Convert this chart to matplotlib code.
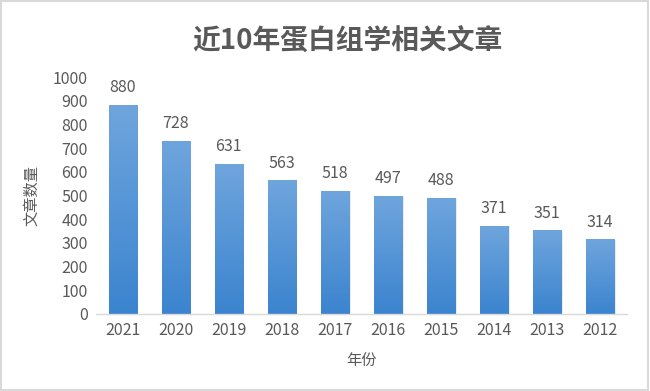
import matplotlib
matplotlib.use('Agg')
import matplotlib.pyplot as plt
import numpy as np
from matplotlib.colors import LinearSegmentedColormap
from matplotlib.patches import Rectangle

plt.rcParams['font.family'] = ['Noto Sans CJK SC', 'DejaVu Sans']

years = ['2021', '2020', '2019', '2018', '2017', '2016', '2015', '2014', '2013', '2012']
counts = [880, 728, 631, 563, 518, 497, 488, 371, 351, 314]
yticks = [0, 100, 200, 300, 400, 500, 600, 700, 800, 900, 1000]

title = '近10年蛋白组学相关文章'
xlabel = '年份'
ylabel = '文章数量'

txt_col = '#595959'
cmap = LinearSegmentedColormap.from_list('bar', ['#3b84cf', '#6fa5dd'])

fig = plt.figure(figsize=(6.5, 3.91), dpi=100)
fig.patches.append(Rectangle((0.002, 0.003), 0.995, 0.994, transform=fig.transFigure,
                             fill=False, edgecolor='#d9d9d9', linewidth=1.5))
ax = fig.add_axes([0.148, 0.197, 0.816, 0.606])

x = np.arange(len(years))
w = 0.53
grad = np.linspace(1, 0, 256).reshape(-1, 1)
for xi, c in zip(x, counts):
    # faint shadow
    ax.add_patch(Rectangle((xi - w / 2 + 0.03, 0), w, c, facecolor='#000000', alpha=0.08,
                           edgecolor='none', zorder=1))
    ax.imshow(grad, extent=[xi - w / 2, xi + w / 2, 0, c], aspect='auto', cmap=cmap,
              vmin=0, vmax=1, zorder=2)
    ax.text(xi, c + 38, str(c), ha='center', va='bottom', fontsize=11.5, color=txt_col)

ax.set_xlim(-0.5, len(years) - 0.5)
ax.set_ylim(0, 1000)
ax.set_xticks(x)
ax.set_xticklabels(years)
ax.set_yticks(yticks)
ax.tick_params(axis='both', length=0, labelsize=11.5, colors=txt_col, pad=6)
for s in ['top', 'right', 'left']:
    ax.spines[s].set_visible(False)
ax.spines['bottom'].set_color('#d9d9d9')
ax.spines['bottom'].set_linewidth(1.0)

ax.set_xlabel(xlabel, fontsize=11, color=txt_col, labelpad=9)
ax.set_ylabel(ylabel, fontsize=11, color=txt_col, labelpad=9)
fig.text(0.535, 0.893, title, ha='center', va='center', fontsize=20, fontweight='bold',
         color=txt_col)

plt.savefig('out.png', dpi=100)
plt.close(fig)
